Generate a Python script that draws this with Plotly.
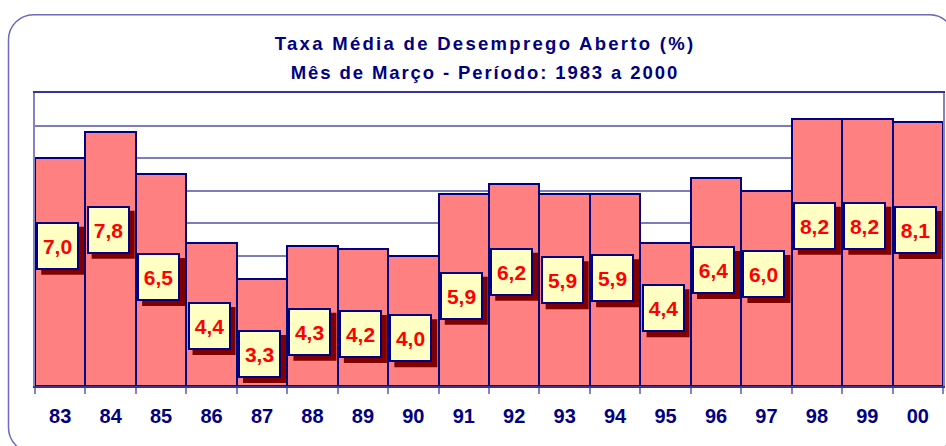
import plotly.graph_objects as go

# ---- data ----
years = ["83", "84", "85", "86", "87", "88", "89", "90", "91",
         "92", "93", "94", "95", "96", "97", "98", "99", "00"]
rates = [7.0, 7.8, 6.5, 4.4, 3.3, 4.3, 4.2, 4.0, 5.9,
         6.2, 5.9, 5.9, 4.4, 6.4, 6.0, 8.2, 8.2, 8.1]
# how far (in %-units) each value box sits below the top of its bar
label_drop = [2.69, 3.00, 3.15, 2.56, 2.32, 2.63, 2.60, 2.53, 3.13,
              2.69, 2.65, 2.59, 2.01, 2.84, 2.56, 3.28, 3.28, 3.31]
title_lines = ["Taxa Média de Desemprego Aberto (%)",
               "Mês de Março - Período: 1983 a 2000"]

# ---- layout constants ----
W, H = 946, 446
L, R, T, B = 35, 3, 93, 60
NAVY = "#000080"
FONT = "Liberation Sans, Arial, sans-serif"
BOX_W, BOX_H = 43, 48


def fx(p):
    return (p - L) / (W - L - R)


def fy(p):
    return (H - B - p) / (H - T - B)


def rounded_rect(x0, y0, x1, y1, r):
    k = 0.5523 * r
    pts = []
    pts.append(f"M{fx(x0 + r)},{fy(y0)}")
    pts.append(f"L{fx(x1 - r)},{fy(y0)}")
    pts.append(f"C{fx(x1 - r + k)},{fy(y0)} {fx(x1)},{fy(y0 + r - k)} {fx(x1)},{fy(y0 + r)}")
    pts.append(f"L{fx(x1)},{fy(y1 - r)}")
    pts.append(f"C{fx(x1)},{fy(y1 - r + k)} {fx(x1 - r + k)},{fy(y1)} {fx(x1 - r)},{fy(y1)}")
    pts.append(f"L{fx(x0 + r)},{fy(y1)}")
    pts.append(f"C{fx(x0 + r - k)},{fy(y1)} {fx(x0)},{fy(y1 - r + k)} {fx(x0)},{fy(y1 - r)}")
    pts.append(f"L{fx(x0)},{fy(y0 + r)}")
    pts.append(f"C{fx(x0)},{fy(y0 + r - k)} {fx(x0 + r - k)},{fy(y0)} {fx(x0 + r)},{fy(y0)}")
    pts.append("Z")
    return " ".join(pts)


fig = go.Figure()
fig.add_trace(go.Bar(
    x=years, y=rates,
    marker=dict(color="#FF8080", line=dict(color=NAVY, width=2)),
    hoverinfo="x+y",
))

shapes = [dict(type="path", xref="paper", yref="paper",
               path=rounded_rect(8.5, 14.7, 954.5, 452.5, 25),
               line=dict(color="#6C6CBA", width=1.5), layer="below")]
annotations = []
labels = [f"{v:.1f}".replace(".", ",") for v in rates]
XS = -2.5  # boxes sit a little left of the bar centre
for i, (v, d, t) in enumerate(zip(rates, label_drop, labels)):
    # dark red drop shadow, sized in pixels around the label anchor
    shapes.append(dict(
        type="rect", xref="x", yref="y", layer="above",
        xsizemode="pixel", ysizemode="pixel", xanchor=i, yanchor=v - d,
        x0=XS + 5 - BOX_W / 2, x1=XS + 5 + BOX_W / 2,
        y0=-5 - BOX_H / 2, y1=-5 + BOX_H / 2,
        fillcolor="#800000", line=dict(width=0),
    ))
    annotations.append(dict(
        x=i, y=v - d, xref="x", yref="y", text=t, showarrow=False,
        xshift=XS, yshift=0, width=BOX_W - 4, height=BOX_H - 4,
        font=dict(family=FONT, size=21, color="#FF0000", weight="bold"),
        bgcolor="#FFFFC4", bordercolor=NAVY, borderwidth=2, borderpad=0,
        xanchor="center", yanchor="middle",
    ))
for i, line in enumerate(title_lines):
    annotations.append(dict(
        x=fx(485), y=fy(44 + 28 * i), xref="paper", yref="paper",
        text=line, showarrow=False, xanchor="center", yanchor="middle",
        font=dict(family=FONT, size=18.5, color=NAVY, weight="bold"),
    ))

fig.update_layout(
    width=W, height=H,
    margin=dict(l=L, r=R, t=T, b=B, pad=0, autoexpand=False),
    paper_bgcolor="white", plot_bgcolor="white",
    bargap=0, showlegend=False,
    annotations=annotations,
    shapes=shapes,
    xaxis=dict(type="category", range=[-0.5, len(years) - 0.5],
               autorange=False, showgrid=False,
               ticks="outside", tickson="boundaries", ticklen=6,
               tickcolor="#8484C4", tickwidth=1.5, tickangle=0,
               tickfont=dict(family=FONT, size=20, color=NAVY, weight="bold"),
               showline=True, mirror=True, linecolor="#34349A", linewidth=2,
               ticklabelstandoff=11),
    yaxis=dict(range=[0, 9], autorange=False, dtick=1,
               showticklabels=False, ticks="",
               showgrid=True, gridcolor="#7C7CBE", gridwidth=1.5,
               zeroline=False, showline=True, mirror=True,
               linecolor="#8484C4", linewidth=1.5),
)

post = """
document.body.style.margin = '0';
document.querySelectorAll('text.annotation-text').forEach(function(t){
  var s = t.textContent;
  if (s.indexOf('Taxa') === 0) { t.style.letterSpacing = '2.3px'; }
  if (s.indexOf('M\\u00eas') === 0) { t.style.letterSpacing = '1.9px'; }
});
"""
fig.write_html("out.html", post_script=post,
               config={"displayModeBar": False})
